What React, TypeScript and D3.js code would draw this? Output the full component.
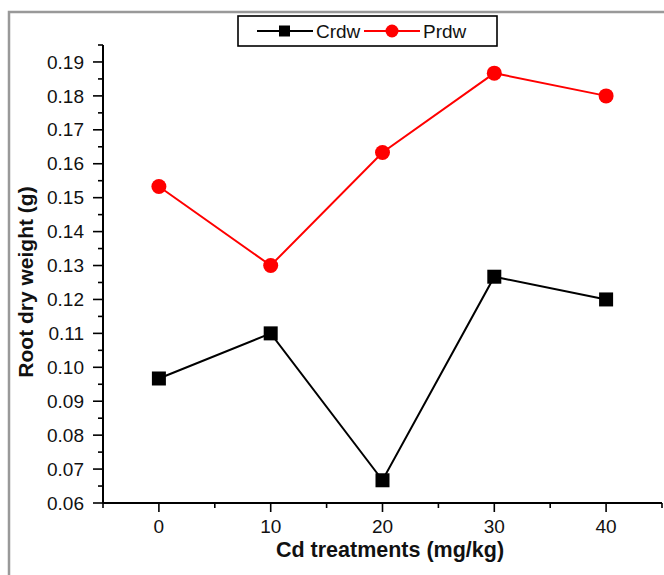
import React, { useEffect, useRef } from 'react'
import * as d3 from 'd3'

const treatments = [0, 10, 20, 30, 40]
const crdw = [0.0967, 0.11, 0.0667, 0.1267, 0.12]
const prdw = [0.1533, 0.13, 0.1633, 0.1867, 0.18]
const yTicks = [0.06, 0.07, 0.08, 0.09, 0.1, 0.11, 0.12, 0.13, 0.14, 0.15, 0.16, 0.17, 0.18, 0.19]
const xTicks = [0, 10, 20, 30, 40]
const seriesNames = ['Crdw', 'Prdw']

const FONT = '"Liberation Sans", Arial, sans-serif'

export default function App() {
  const svgRef = useRef<SVGSVGElement>(null)

  useEffect(() => {
    const width = 664
    const height = 575
    const svg = d3.select(svgRef.current)
    svg.selectAll('*').remove()

    // outer frame (cropped on right/bottom)
    svg.append('rect')
      .attr('x', 9).attr('y', 12).attr('width', 700).attr('height', 600)
      .attr('fill', '#fff').attr('stroke', '#999').attr('stroke-width', 2.5)

    const x = d3.scaleLinear().domain([-5, 45]).range([103, 662])
    const y = d3.scaleLinear().domain([0.06, 0.195]).range([503, 45])

    const minorY = d3.range(0.065, 0.196, 0.01)
    const minorX = d3.range(-5, 46, 10)

    // y axis
    const ya = svg.append('g')
    ya.append('line').attr('x1', x(-5)).attr('x2', x(-5)).attr('y1', y(0.06)).attr('y2', y(0.195))
      .attr('stroke', '#000').attr('stroke-width', 2)
    ya.selectAll('.maj').data(yTicks).join('line')
      .attr('x1', x(-5) - 10).attr('x2', x(-5)).attr('y1', (d) => y(d)).attr('y2', (d) => y(d))
      .attr('stroke', '#000').attr('stroke-width', 1.6)
    ya.selectAll('.min').data(minorY).join('line')
      .attr('x1', x(-5) - 5).attr('x2', x(-5)).attr('y1', (d) => y(d)).attr('y2', (d) => y(d))
      .attr('stroke', '#000').attr('stroke-width', 1.6)
    ya.selectAll('text').data(yTicks).join('text')
      .attr('x', x(-5) - 19).attr('y', (d) => y(d)).attr('dy', '0.35em')
      .attr('text-anchor', 'end').attr('font-family', FONT).attr('font-size', 19)
      .attr('fill', '#111')
      .text((d) => d3.format('.2f')(d))

    // x axis
    const xa = svg.append('g')
    xa.append('line').attr('x1', x(-5)).attr('x2', x(45)).attr('y1', y(0.06)).attr('y2', y(0.06))
      .attr('stroke', '#000').attr('stroke-width', 2)
    xa.selectAll('.maj').data(xTicks).join('line')
      .attr('x1', (d) => x(d)).attr('x2', (d) => x(d)).attr('y1', y(0.06)).attr('y2', y(0.06) + 9)
      .attr('stroke', '#000').attr('stroke-width', 1.6)
    xa.selectAll('.min').data(minorX).join('line')
      .attr('x1', (d) => x(d)).attr('x2', (d) => x(d)).attr('y1', y(0.06)).attr('y2', y(0.06) + 5)
      .attr('stroke', '#000').attr('stroke-width', 1.6)
    xa.selectAll('text').data(xTicks).join('text')
      .attr('x', (d) => x(d)).attr('y', 533)
      .attr('text-anchor', 'middle').attr('font-family', FONT).attr('font-size', 19)
      .attr('fill', '#111')
      .text((d) => d)

    // axis titles
    svg.append('text')
      .attr('transform', `translate(33,${282}) rotate(-90)`)
      .attr('text-anchor', 'middle').attr('font-family', FONT).attr('font-size', 21)
      .attr('font-weight', 'bold').attr('fill', '#111').text('Root dry weight (g)')
    svg.append('text')
      .attr('x', 390).attr('y', 557)
      .attr('text-anchor', 'middle').attr('font-family', FONT).attr('font-size', 21.5)
      .attr('font-weight', 'bold').attr('fill', '#111').text('Cd treatments (mg/kg)')

    const line = d3.line<number>().x((_, i) => x(treatments[i])).y((d) => y(d))

    // Crdw
    svg.append('path').attr('d', line(crdw)).attr('fill', 'none').attr('stroke', '#000').attr('stroke-width', 2)
    svg.selectAll('.sq').data(crdw).join('rect')
      .attr('x', (_, i) => x(treatments[i]) - 7).attr('y', (d) => y(d) - 7)
      .attr('width', 14).attr('height', 14).attr('fill', '#000')

    // Prdw
    svg.append('path').attr('d', line(prdw)).attr('fill', 'none').attr('stroke', '#ff0000').attr('stroke-width', 2)
    svg.selectAll('.ci').data(prdw).join('circle')
      .attr('cx', (_, i) => x(treatments[i])).attr('cy', (d) => y(d)).attr('r', 7.5).attr('fill', '#ff0000')

    // legend
    const lg = svg.append('g')
    lg.append('rect').attr('x', 238).attr('y', 16).attr('width', 259).attr('height', 30)
      .attr('fill', '#fff').attr('stroke', '#000').attr('stroke-width', 1.6)
    const items = [
      { name: seriesNames[0], color: '#000', x0: 257 },
      { name: seriesNames[1], color: '#ff0000', x0: 364 },
    ]
    items.forEach((it, i) => {
      lg.append('line').attr('x1', it.x0).attr('x2', it.x0 + 56).attr('y1', 31).attr('y2', 31)
        .attr('stroke', it.color).attr('stroke-width', 2)
      if (i === 0) {
        lg.append('rect').attr('x', it.x0 + 22).attr('y', 25.5).attr('width', 11).attr('height', 11).attr('fill', it.color)
      } else {
        lg.append('circle').attr('cx', it.x0 + 28).attr('cy', 31).attr('r', 6.5).attr('fill', it.color)
      }
      lg.append('text').attr('x', it.x0 + 59).attr('y', 38)
        .attr('font-family', FONT).attr('font-size', 19).attr('fill', '#111').text(it.name)
    })
    svg.attr('viewBox', `0 0 ${width} ${height}`)
  }, [])

  return (
    <svg
      ref={svgRef}
      width={664}
      height={575}
      style={{ position: 'absolute', left: 0, top: 0, background: '#fff' }}
    />
  )
}
